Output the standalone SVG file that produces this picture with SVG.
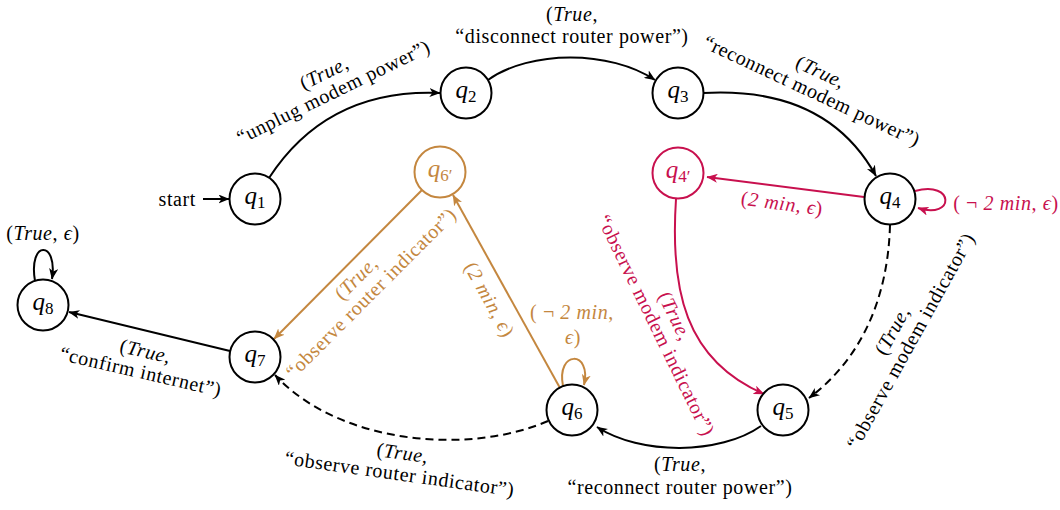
<svg xmlns="http://www.w3.org/2000/svg" width="1060" height="510" viewBox="0 0 1060 510">
<style>
.n{fill:#fff;stroke:#000;stroke-width:2}
.nr{fill:#fff;stroke:#C8104E;stroke-width:2}
.no{fill:#fff;stroke:#C4873F;stroke-width:2}
.e{fill:none;stroke:#000;stroke-width:2}
.d{stroke-dasharray:8 5}
.er{fill:none;stroke:#C8104E;stroke-width:2}
.eo{fill:none;stroke:#C4873F;stroke-width:2}
text{font-family:"Liberation Serif","DejaVu Serif",serif;font-size:20px;letter-spacing:0.6px;fill:#000}
.ql{font-size:25px;letter-spacing:0}
.i{font-style:italic}
.r{fill:#C8104E}
.o{fill:#C4873F}
</style>
<defs>
<marker id="ab" markerUnits="userSpaceOnUse" markerWidth="12" markerHeight="9" refX="10.5" refY="4.5" orient="auto" viewBox="0 0 12 9"><path d="M0,0 L11,4.5 L0,9 L3,4.5 Z" fill="#000"/></marker>
<marker id="ar" markerUnits="userSpaceOnUse" markerWidth="12" markerHeight="9" refX="10.5" refY="4.5" orient="auto" viewBox="0 0 12 9"><path d="M0,0 L11,4.5 L0,9 L3,4.5 Z" fill="#C8104E"/></marker>
<marker id="ao" markerUnits="userSpaceOnUse" markerWidth="12" markerHeight="9" refX="10.5" refY="4.5" orient="auto" viewBox="0 0 12 9"><path d="M0,0 L11,4.5 L0,9 L3,4.5 Z" fill="#C4873F"/></marker>
</defs>

<g id="edges">
<path class="e" d="M203,199 L229,199" marker-end="url(#ab)"/>
<path class="e" d="M269,178 C310,115 370,90 440,93" marker-end="url(#ab)"/>
<path class="e" d="M488,80 C530,50 610,50 655,80" marker-end="url(#ab)"/>
<path class="e" d="M703,93 C790,88 845,120 876,176" marker-end="url(#ab)"/>
<path class="er" d="M864,197 L707,177" marker-end="url(#ar)"/>
<path class="er" d="M915,191 C955,180 955,220 918,208" marker-end="url(#ar)"/>
<path class="er" d="M676,199 C670,290 685,360 764,394" marker-end="url(#ar)"/>
<path class="e d" d="M890,225 C888,300 860,360 809,398" marker-end="url(#ab)"/>
<path class="e" d="M761,426 C720,455 640,455 597,427" marker-end="url(#ab)"/>
<path class="eo" d="M560,388 L453,195" marker-end="url(#ao)"/>
<path class="eo" d="M563,386 C556,350 592,350 584,385" marker-end="url(#ao)"/>
<path class="eo" d="M422,190 L274,339" marker-end="url(#ao)"/>
<path class="e d" d="M548,421 C470,455 340,445 275,375" marker-end="url(#ab)"/>
<path class="e" d="M230,351 L69,312" marker-end="url(#ab)"/>
<path class="e" d="M35,281 C28,240 58,240 52,279" marker-end="url(#ab)"/>
</g>

<g id="edge-labels">
<text x="196" y="206" text-anchor="end">start</text>
<g transform="translate(329,83) rotate(-26)">
<text x="0" y="-4.5" text-anchor="middle">(<tspan class="i">True</tspan>,</text>
<text x="0" y="16.5" text-anchor="middle">“unplug modem power”)</text>
</g>
<text x="572" y="21" text-anchor="middle">(<tspan class="i">True</tspan>,</text>
<text x="572" y="43" text-anchor="middle">“disconnect router power”)</text>
<g transform="translate(816,82) rotate(25)">
<text x="0" y="-4.5" text-anchor="middle">(<tspan class="i">True</tspan>,</text>
<text x="0" y="16.5" text-anchor="middle">“reconnect modem power”)</text>
</g>
<g transform="translate(782,204) rotate(7.5)">
<text class="r" x="0" y="6" text-anchor="middle">(<tspan class="i">2 min</tspan>, <tspan class="i">ϵ</tspan>)</text>
</g>
<text class="r" x="1006" y="210" text-anchor="middle">( ¬ <tspan class="i">2 min</tspan>, <tspan class="i">ϵ</tspan>)</text>
<g transform="translate(665,321) rotate(64)">
<text class="r" x="0" y="-4.5" text-anchor="middle">(<tspan class="i">True</tspan>,</text>
<text class="r" x="0" y="16.5" text-anchor="middle">“observe modem indicator”)</text>
</g>
<g transform="translate(902,336) rotate(-61)">
<text x="0" y="-4.5" text-anchor="middle">(<tspan class="i">True</tspan>,</text>
<text x="0" y="16.5" text-anchor="middle">“observe modem indicator”)</text>
</g>
<text x="680" y="471" text-anchor="middle">(<tspan class="i">True</tspan>,</text>
<text x="680" y="494" text-anchor="middle">“reconnect router power”)</text>
<g transform="translate(489,300) rotate(61)">
<text class="o" x="0" y="6" text-anchor="middle">(<tspan class="i">2 min</tspan>, <tspan class="i">ϵ</tspan>)</text>
</g>
<text class="o" x="572" y="319" text-anchor="middle">( ¬ <tspan class="i">2 min</tspan>,</text>
<text class="o" x="573" y="344" text-anchor="middle"><tspan class="i">ϵ</tspan>)</text>
<g transform="translate(364,286) rotate(-45)">
<text class="o" x="0" y="-4.5" text-anchor="middle">(<tspan class="i">True</tspan>,</text>
<text class="o" x="0" y="16.5" text-anchor="middle">“observe router indicator”)</text>
</g>
<g transform="translate(401,464) rotate(8)">
<text x="0" y="-4.5" text-anchor="middle">(<tspan class="i">True</tspan>,</text>
<text x="0" y="16.5" text-anchor="middle">“observe router indicator”)</text>
</g>
<g transform="translate(143,362) rotate(13)">
<text x="0" y="-4.5" text-anchor="middle">(<tspan class="i">True</tspan>,</text>
<text x="0" y="16.5" text-anchor="middle">“confirm internet”)</text>
</g>
<text x="43" y="240" text-anchor="middle">(<tspan class="i">True</tspan>, <tspan class="i">ϵ</tspan>)</text>
</g>

<g id="q1"><circle class="n" cx="255" cy="199" r="25.5"/><text class="ql" x="255" y="204" text-anchor="middle"><tspan class="i">q</tspan><tspan font-size="17" dy="4">1</tspan></text></g>
<g id="q2"><circle class="n" cx="466" cy="93" r="25.5"/><text class="ql" x="466" y="98" text-anchor="middle"><tspan class="i">q</tspan><tspan font-size="17" dy="4">2</tspan></text></g>
<g id="q3"><circle class="n" cx="678" cy="93" r="25.5"/><text class="ql" x="678" y="98" text-anchor="middle"><tspan class="i">q</tspan><tspan font-size="17" dy="4">3</tspan></text></g>
<g id="q4"><circle class="n" cx="890" cy="199" r="25.5"/><text class="ql" x="890" y="204" text-anchor="middle"><tspan class="i">q</tspan><tspan font-size="17" dy="4">4</tspan></text></g>
<g id="q4p"><circle class="nr" cx="678" cy="173" r="25.5"/><text class="ql r" x="678" y="178" text-anchor="middle"><tspan class="i">q</tspan><tspan font-size="17" dy="4">4′</tspan></text></g>
<g id="q5"><circle class="n" cx="783" cy="410" r="25.5"/><text class="ql" x="783" y="415" text-anchor="middle"><tspan class="i">q</tspan><tspan font-size="17" dy="4">5</tspan></text></g>
<g id="q6"><circle class="n" cx="572" cy="410" r="25.5"/><text class="ql" x="572" y="415" text-anchor="middle"><tspan class="i">q</tspan><tspan font-size="17" dy="4">6</tspan></text></g>
<g id="q6p"><circle class="no" cx="440" cy="172" r="25.5"/><text class="ql o" x="440" y="177" text-anchor="middle"><tspan class="i">q</tspan><tspan font-size="17" dy="4">6′</tspan></text></g>
<g id="q7"><circle class="n" cx="255" cy="357" r="25.5"/><text class="ql" x="255" y="362" text-anchor="middle"><tspan class="i">q</tspan><tspan font-size="17" dy="4">7</tspan></text></g>
<g id="q8"><circle class="n" cx="43" cy="305" r="25.5"/><text class="ql" x="43" y="310" text-anchor="middle"><tspan class="i">q</tspan><tspan font-size="17" dy="4">8</tspan></text></g>
</svg>
